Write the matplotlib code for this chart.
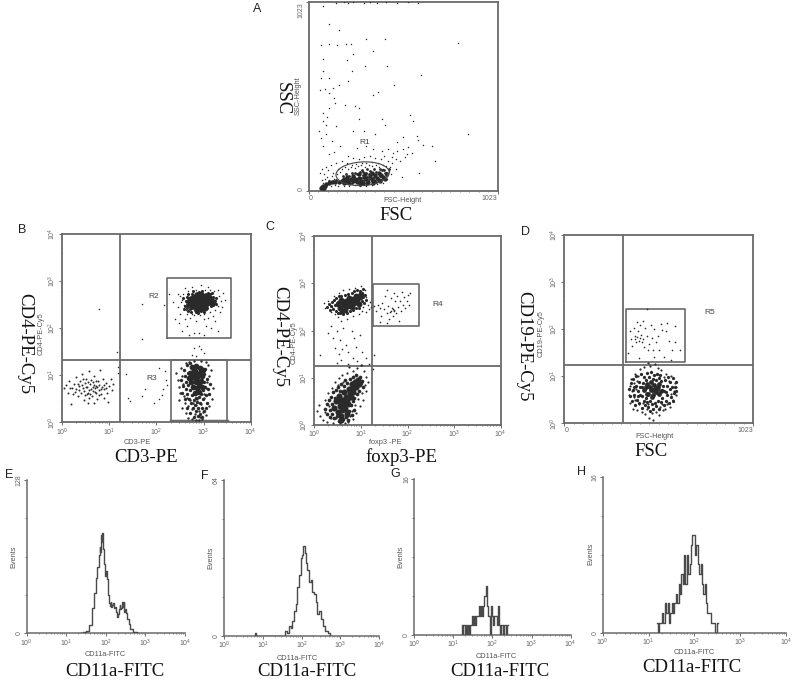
import numpy as np
import matplotlib
matplotlib.use('Agg')
import matplotlib.pyplot as plt
from matplotlib.patches import Ellipse
from matplotlib.ticker import LogLocator, NullFormatter, LogFormatterMathtext, MultipleLocator

plt.rcParams['font.family'] = ['Liberation Sans', 'DejaVu Sans']
plt.rcParams['mathtext.default'] = 'regular'

GREY = '#6a6a6a'
DOT = '#2a2a2a'

# panel A, FSC / SSC channels
a_sparse = np.array([[76,1000],[108,906],[166,870],[65,792],[112,797],[155,788],[202,794],[227,797],[310,821],[411,824],
    [810,803],[346,756],[238,740],[76,714],[206,707],[422,675],[305,675],[234,651],[76,648],[65,612],[112,612],[610,628],
    [215,597],[166,575],[462,575],[61,548],[88,554],[130,557],[377,536],[108,527],[350,518],[139,500],[142,476],[197,464],
    [112,449],[249,458],[270,446],[76,422],[101,400],[272,388],[79,379],[395,386],[547,408],[566,379],[94,355],[148,350],
    [413,355],[56,325],[94,310],[238,321],[299,325],[864,308],[65,283],[126,269],[359,310],[585,299],[512,289],[477,265],
    [666,245],[617,249],[594,274],[684,162],[597,97],[505,76],[150,1020],[190,1021],[215,1020],[240,1021],[300,1020],
    [330,1021],[370,1020],[420,1021],[480,1020],[540,1021],[590,1020],[80,240],[110,200],[135,210],[170,245],[215,190],
    [260,230],[310,240],[350,225],[395,215],[430,225],[455,205],[480,215],[510,225],[530,200],[540,235],[560,205],
    [450,180],[470,170],[495,160],[520,185],[430,160],[410,190],[390,170],[360,175],[330,190],[300,180],[270,170],
    [240,175],[210,150],[180,160],[150,150],[120,140],[95,130],[70,120],[60,95],[85,90],[105,110],[130,95],[160,120],
    [440,130],[470,120],[420,100],[400,140],[375,150],[345,155],[310,150],[285,140],[255,145],[230,130],
    [72,60],[78,40],[88,62],[98,72],[112,60],[124,78],[138,66],[152,90],[168,100],[180,118],[196,128],[214,118],[232,140],
    [250,125],[268,135],[288,150],[306,128],[326,142],[344,132],[362,138],[382,128],[402,120],[418,135],[436,108],[452,150],
    [120,28],[140,30],[160,28],[190,28],[220,26],[250,30],[280,24],[310,28],[340,30],[370,34],[400,40],[425,62],[445,88]])
a_core = np.array([[66,12],[70,18],[75,14],[78,24],[82,16],[88,28],[95,36],[108,40],[125,46],[145,48],[165,46],[180,52],[192,42],
    [205,60],[215,48],[228,66],[240,52],[250,62],[262,46],[270,70],[282,55],[292,44],[300,76],[310,62],[322,48],[330,80],[340,66],
    [352,52],[360,84],[372,70],[382,58],[392,86],[402,76],[412,66],[210,76],[240,80],[270,88],[305,92],[345,96],[378,98],[190,64],
    [220,40],[280,38],[315,42],[350,42],[385,50]])
a_fill = np.array([[180,60],[188,78],[196,52],[204,90],[212,66],[220,82],[228,56],[236,98],[244,74],[252,52],[260,88],[268,50],
    [276,104],[284,70],[292,84],[300,58],[308,96],[316,76],[324,66],[332,108],[340,54],[348,88],[356,72],[364,102],[372,62],[380,92],
    [388,78],[396,110],[404,68],[412,98],[418,84],[200,44],[232,44],[262,66],[296,104],[328,90],[362,48],[394,60],[168,46],[150,58],
    [130,54],[110,50],[250,98],[286,112],[318,118],[352,118],[384,116],[410,112],[426,96],[434,118]])

# panel B, decades on both axes
b_sparse = np.array([[0.79,2.41],[1.16,1.50],[1.18,1.05],[1.19,1.17],[1.70,2.51],[1.70,1.76],[2.16,2.49],[2.27,2.72],[2.35,2.55],
    [2.40,2.20],[2.45,2.45],[2.50,2.30],[2.48,2.10],[2.55,1.95],[2.60,2.20],[2.65,2.05],[2.70,1.85],[2.80,1.90],[2.90,1.90],[3.00,1.85],
    [3.05,2.05],[3.15,2.00],[3.25,2.15],[3.30,1.95],[2.55,2.60],[2.50,2.68],[2.45,2.72],[2.60,2.85],[2.75,2.87],[2.95,2.92],[3.10,2.88],
    [3.30,2.80],[3.42,2.75],[3.45,2.60],[3.40,2.45],[3.35,2.35],[3.20,2.25],[2.85,2.15],[3.00,2.20],[2.75,2.30],[2.80,1.58],[2.90,1.62],
    [2.95,1.55],[3.00,1.48],[2.85,1.40],[2.75,1.42],[1.35,1.03],[1.40,0.52],[1.45,0.45],[1.70,0.55],[1.75,0.70],[1.95,0.42],[2.05,0.50],
    [2.15,0.70],[2.12,0.58],[2.05,1.15],[2.20,0.90],[2.22,0.80],[2.18,1.10],[2.62,2.38],[2.66,2.30],[2.72,2.22],[2.80,2.28],[2.92,2.28],
    [3.02,2.30],[3.10,2.22],[3.14,2.34],[3.24,2.38],[3.30,2.48],[3.36,2.58],[3.32,2.68],[3.22,2.78],[3.14,2.80],[3.04,2.82],[2.84,2.80],
    [2.68,2.78],[2.56,2.72],[2.58,2.50],[2.52,2.55]])
b_r2_core = np.array([[2.70,2.52],[2.72,2.60],[2.75,2.46],[2.78,2.56],[2.79,2.65],[2.82,2.48],[2.84,2.60],[2.86,2.70],[2.88,2.44],
    [2.90,2.55],[2.92,2.64],[2.94,2.71],[2.96,2.46],[2.98,2.56],[3.00,2.66],[3.03,2.50],[3.05,2.60],[3.06,2.69],[3.10,2.56],[3.12,2.65],
    [3.16,2.60],[2.88,2.40],[3.00,2.42],[3.18,2.54],[2.76,2.52],[2.82,2.54],[2.86,2.50],[2.94,2.50],[2.98,2.62],[3.04,2.56],[2.92,2.58],
    [2.74,2.62],[3.08,2.62],[3.14,2.55]])
b_r2_fringe = np.array([[2.60,2.48],[2.62,2.58],[2.64,2.42],[2.65,2.66],[2.67,2.36],[2.68,2.72],[2.72,2.40],[2.74,2.34],[2.75,2.72],[2.78,2.78],
    [2.82,2.38],[2.84,2.34],[2.88,2.32],[2.90,2.77],[2.95,2.36],[2.97,2.78],[3.01,2.35],[3.05,2.40],[3.08,2.42],[3.09,2.74],[3.13,2.72],
    [3.16,2.46],[3.20,2.50],[3.21,2.66],[3.24,2.58],[3.26,2.52],[3.27,2.64],[3.17,2.74],[2.58,2.40],[2.56,2.64]])
b_r3_core = np.array([[2.75,1.18],[2.85,1.20],[2.92,1.15],[2.72,1.05],[2.82,1.08],[2.92,1.05],[2.98,1.12],[2.70,0.95],[2.78,0.97],
    [2.87,0.96],[2.97,0.98],[2.74,0.86],[2.84,0.85],[2.94,0.88],[2.78,0.74],[2.87,0.73],[2.96,0.76],[2.81,0.62],[2.90,0.64],[2.80,1.12],
    [2.88,1.02],[2.83,0.92],[2.91,0.82],[2.77,1.02]])
b_r3_fill = np.array([[2.58,1.12],[2.60,0.98],[2.62,0.85],[2.63,0.70],[2.64,1.22],[2.66,0.60],[2.67,1.05],[2.68,0.80],[2.70,0.50],[2.71,1.26],
    [2.72,0.68],[2.74,0.40],[2.76,0.58],[2.78,0.30],[2.79,0.48],[2.82,0.36],[2.84,0.52],[2.85,0.24],[2.87,0.44],[2.89,0.30],[2.90,0.54],
    [2.92,0.18],[2.93,0.42],[2.95,0.60],[2.96,0.30],[2.98,0.50],[2.99,0.68],[3.00,0.86],[3.02,1.02],[3.03,0.76],[3.04,1.14],[3.05,0.58],
    [3.07,0.92],[3.08,0.42],[3.09,0.70],[2.66,0.30],[2.72,0.20],[2.80,0.12],[2.88,0.14],[2.96,0.12],[3.02,0.24],[3.06,0.30],[2.60,0.50],
    [2.56,0.78],[2.54,0.62],[2.52,0.90],[3.12,0.60],[3.14,0.82]])
b_r3_halo = np.array([[2.42,1.05],[2.45,0.90],[2.47,0.75],[2.50,0.62],[2.52,1.15],[2.55,0.98],[2.57,0.82],[2.58,0.55],[2.62,1.25],
    [2.60,0.42],[2.65,0.52],[2.68,0.35],[2.72,0.48],[2.75,0.28],[2.78,0.42],[2.82,0.18],[2.84,0.36],[2.87,0.50],[2.90,0.25],[2.92,0.12],
    [2.95,0.38],[2.98,0.22],[3.00,0.52],[3.02,0.60],[3.05,0.72],[3.08,0.85],[3.12,0.98],[3.15,1.12],[3.10,1.22],[3.20,0.72],[3.18,0.50],
    [3.12,0.35],[2.62,0.20],[2.68,0.10],[2.76,0.08],[2.84,0.05],[2.90,0.04],[2.97,0.08],[3.05,0.15],[2.55,0.30],[2.48,0.48],[3.06,1.28],
    [2.95,1.30],[2.80,1.30],[2.70,1.28]])
b_low = np.array([[0.05,0.72],[0.09,0.80],[0.12,0.62],[0.15,0.88],[0.18,0.72],[0.20,0.38],[0.24,0.60],[0.26,0.82],[0.29,0.96],[0.30,0.70],
    [0.33,0.55],[0.36,0.78],[0.38,0.88],[0.40,0.62],[0.42,1.02],[0.44,0.72],[0.46,0.48],[0.48,0.84],[0.50,0.92],[0.52,0.60],[0.54,0.76],
    [0.55,0.42],[0.57,1.08],[0.58,0.68],[0.60,0.82],[0.62,0.90],[0.64,0.56],[0.65,0.74],[0.67,0.40],[0.68,0.98],[0.70,0.65],[0.72,0.78],
    [0.74,0.50],[0.76,0.88],[0.78,0.68],[0.80,1.12],[0.82,0.60],[0.84,0.76],[0.86,0.92],[0.88,0.52],[0.90,0.70],[0.93,0.84],[0.96,0.62],
    [0.98,0.44],[1.00,0.78],[1.03,0.92],[1.06,0.68],[1.08,0.82],[0.35,0.68],[0.55,0.62],[0.62,0.70],[0.70,0.72],[0.75,0.74],[0.68,0.80],
    [0.22,0.72],[0.28,0.64],[0.34,0.82],[0.42,0.80],[0.46,0.66],[0.50,0.74],[0.56,0.86],[0.60,0.60],[0.66,0.66],[0.72,0.62],[0.78,0.80],
    [0.82,0.70],[0.88,0.80],[0.94,0.72],[0.48,0.58],[0.58,0.52],[0.72,0.88],[0.66,0.86],[0.44,0.92],[0.78,0.58]])

# panel C, decades on both axes
c_top_core = np.array([[0.50,2.56],[0.55,2.48],[0.58,2.64],[0.63,2.53],[0.66,2.44],[0.68,2.62],[0.72,2.52],[0.74,2.68],[0.78,2.60],
    [0.80,2.50],[0.84,2.66],[0.86,2.58],[0.90,2.74],[0.92,2.64],[0.96,2.56],[0.98,2.70],[1.01,2.78],[0.60,2.42],[0.54,2.58],[0.64,2.60],
    [0.70,2.58],[0.76,2.54],[0.82,2.60],[0.88,2.66],[0.94,2.70]])
c_top_fill = np.array([[0.36,2.52],[0.38,2.60],[0.40,2.46],[0.42,2.64],[0.44,2.54],[0.46,2.42],[0.46,2.68],[0.50,2.38],[0.52,2.72],[0.56,2.36],
    [0.58,2.74],[0.62,2.34],[0.66,2.76],[0.70,2.38],[0.72,2.78],[0.76,2.42],[0.80,2.80],[0.84,2.44],[0.86,2.84],[0.90,2.48],[0.92,2.86],
    [0.96,2.48],[0.98,2.84],[1.02,2.62],[1.04,2.88],[1.04,2.70],[1.06,2.58],[1.08,2.76],[1.10,2.64],[0.34,2.44],[0.32,2.56],[0.28,2.50]])
c_top_halo = np.array([[0.20,2.58],[0.22,2.48],[0.30,2.62],[0.35,2.40],[0.38,2.50],[0.42,2.72],[0.44,2.34],[0.50,2.28],[0.52,2.80],
    [0.58,2.20],[0.62,2.85],[0.70,2.25],[0.75,2.88],[0.82,2.30],[0.88,2.90],[0.95,2.35],[1.00,2.95],[1.05,2.50],[1.08,2.85],[1.12,2.70],
    [1.15,2.55],[1.18,2.45],[1.10,2.40],[1.02,2.42],[0.35,2.10],[0.30,1.95],[0.40,1.85],[0.48,2.00],[0.55,1.80],[0.62,2.05],[0.68,1.70],
    [0.45,1.62],[0.52,1.50],[0.60,1.60],[0.72,1.55],[0.80,1.98],[0.85,1.85],[0.90,1.65],[0.98,1.90],[1.02,1.55],[0.48,1.32],[0.58,1.38],
    [0.72,1.30],[0.82,1.42],[0.92,1.35],[1.02,1.28],[1.12,1.42],[1.18,1.30],[0.12,1.48],[1.28,1.48],[1.26,1.18],[1.20,2.60],[1.22,2.50]])
c_r4 = np.array([[1.28,2.52],[1.33,2.42],[1.36,2.55],[1.40,2.48],[1.44,2.30],[1.46,2.58],[1.50,2.45],[1.52,2.72],[1.55,2.38],[1.57,2.85],
    [1.59,2.52],[1.62,2.40],[1.64,2.68],[1.66,2.47],[1.68,2.30],[1.70,2.80],[1.72,2.44],[1.74,2.62],[1.76,2.38],[1.78,2.72],[1.80,2.50],
    [1.82,2.20],[1.84,2.62],[1.86,2.42],[1.88,2.82],[1.90,2.55],[1.92,2.70],[1.95,2.48],[1.98,2.62],[2.02,2.76],[2.04,2.55],[2.06,2.80],
    [1.60,2.25],[1.55,2.15],[1.42,2.18],[1.68,2.45],[1.70,2.42],[1.65,2.42]])
c_low_core = np.array([[0.42,0.36],[0.46,0.50],[0.50,0.28],[0.52,0.62],[0.55,0.40],[0.58,0.20],[0.60,0.52],[0.63,0.70],[0.66,0.34],
    [0.68,0.60],[0.72,0.44],[0.74,0.76],[0.78,0.60],[0.80,0.86],[0.84,0.70],[0.87,0.92],[0.90,0.80],[0.93,0.96],[0.96,0.86],[0.58,0.10],
    [0.70,0.24],[0.54,0.50],[0.64,0.44],[0.70,0.52],[0.76,0.68],[0.82,0.78],[0.60,0.32]])
c_low_fill = np.array([[0.24,0.34],[0.27,0.24],[0.28,0.44],[0.31,0.52],[0.33,0.16],[0.34,0.32],[0.36,0.60],[0.38,0.24],[0.39,0.44],[0.41,0.70],
    [0.43,0.14],[0.44,0.58],[0.47,0.74],[0.48,0.18],[0.51,0.80],[0.53,0.08],[0.56,0.72],[0.57,0.86],[0.62,0.12],[0.64,0.82],[0.66,0.96],
    [0.68,0.16],[0.70,0.88],[0.74,0.30],[0.77,0.98],[0.78,0.42],[0.82,0.50],[0.84,1.02],[0.86,0.58],[0.90,1.06],[0.92,0.66],[0.96,0.72],
    [0.99,1.02],[1.00,0.88],[1.03,0.94],[1.05,0.80],[0.72,0.10],[0.80,0.22],[0.86,0.32]])
c_low_halo = np.array([[0.05,0.30],[0.10,0.42],[0.13,0.20],[0.18,0.10],[0.22,0.52],[0.24,0.28],[0.28,0.06],[0.30,0.68],[0.32,0.40],
    [0.36,0.15],[0.38,0.78],[0.40,0.05],[0.44,0.90],[0.46,0.14],[0.50,0.85],[0.52,1.00],[0.55,0.04],[0.60,1.05],[0.62,0.92],[0.65,0.04],
    [0.70,1.10],[0.72,0.06],[0.76,0.18],[0.80,0.30],[0.82,1.15],[0.84,0.12],[0.88,0.42],[0.90,0.25],[0.94,0.55],[0.98,0.40],[1.02,0.68],
    [1.05,0.52],[1.08,0.85],[1.10,1.02],[1.12,0.72],[1.06,1.15],[1.15,0.90],[0.75,1.22],[0.92,1.20],[1.00,1.26]])

# panel D, FSC channel against decades
d_r5 = np.array([[345,1.50],[355,1.95],[360,1.78],[368,1.65],[375,2.02],[380,1.85],[388,1.72],[392,2.15],[398,1.95],[402,1.75],[410,2.08],
    [415,1.88],[422,1.72],[428,2.18],[432,1.62],[438,2.02],[445,1.85],[450,2.42],[455,1.55],[460,1.68],[468,2.08],[472,1.80],[478,1.55],
    [485,2.00],[495,1.72],[505,1.85],[515,1.55],[522,2.10],[530,1.98],[540,1.40],[548,1.95],[558,2.12],[565,1.75],[575,1.35],[585,1.55],
    [598,2.06],[600,1.72],[625,1.55],[395,1.82],[412,1.80],[428,1.78],[380,1.78],[405,1.38],[488,1.40]])
d_core = np.array([[430,0.70],[440,0.78],[445,0.62],[450,0.84],[455,0.62],[462,0.76],[468,0.88],[472,0.56],[478,0.70],[482,0.60],[488,0.82],
    [495,0.66],[498,0.74],[505,0.76],[510,0.62],[515,0.84],[522,0.68],[470,0.70],[485,0.70],[500,0.72]])
d_fill = np.array([[352,0.72],[358,0.58],[362,0.86],[366,0.48],[370,0.70],[374,0.94],[378,0.60],[382,0.38],[386,0.80],[390,1.00],[394,0.50],
    [398,0.68],[402,0.88],[406,0.42],[410,0.76],[414,1.04],[418,0.58],[422,0.32],[426,0.86],[430,0.48],[434,0.98],[438,0.38],[442,0.92],
    [446,0.46],[450,1.06],[454,0.34],[458,0.98],[462,0.48],[466,0.26],[470,1.08],[474,0.40],[478,0.94],[482,0.30],[486,1.02],[490,0.44],
    [494,0.92],[498,0.36],[502,1.04],[506,0.48],[510,0.96],[514,0.30],[518,1.02],[522,0.46],[526,0.90],[530,0.54],[534,0.80],[538,0.38],
    [542,0.68],[546,0.92],[550,0.48],[554,0.80],[558,0.60],[562,0.98],[566,0.42],[570,0.72],[574,0.88],[578,0.56],[582,0.78],[586,0.96],
    [590,0.48],[594,0.64],[598,0.78],[602,0.88],[606,0.68],[400,0.58],[420,0.78],[440,0.54],[530,0.70],[550,0.66],[410,0.60],[375,0.78]])
d_halo = np.array([[350,0.60],[355,0.80],[358,0.42],[362,0.95],[366,0.68],[372,0.30],[375,0.85],[380,1.05],[384,0.50],[388,0.72],[395,0.28],
    [400,1.00],[405,0.40],[412,1.15],[418,0.25],[425,0.42],[432,1.20],[438,0.20],[445,0.30],[452,1.28],[460,0.12],[466,1.22],[475,0.22],
    [482,0.08],[490,1.25],[498,0.25],[505,1.18],[512,0.18],[520,0.35],[525,1.12],[532,0.28],[540,0.98],[545,0.30],[552,1.05],[558,0.40],
    [565,0.90],[572,0.35],[580,1.00],[588,0.50],[592,0.68],[598,0.85],[603,0.60],[606,0.78],[375,0.55],[392,0.90],[420,0.32],[455,0.40],
    [530,0.40],[575,0.62]])

# histograms E-H, decades against events
e_x = [1.35,1.47,1.53,1.60,1.68,1.73,1.77,1.80,1.83,1.85,1.87,1.88,1.90,1.92,1.94,1.95,1.97,2.00,2.02,2.04,2.06,2.07,2.09,2.11,2.13,2.15,
       2.17,2.19,2.21,2.23,2.26,2.29,2.32,2.34,2.36,2.38,2.39,2.41,2.44,2.46,2.48,2.50,2.53,2.56,2.59,2.65,2.74,2.82]
e_y = [0,1,2,7,21,34,46,55,65,72,68,82,76,84,70,65,58,48,52,45,36,32,25,23,26,22,24,25,21,22,18,14,16,20,24,20,21,26,22,26,18,20,17,12,8,4,1,0]
f_x = [0.80,0.82,0.84,1.53,1.60,1.65,1.70,1.74,1.78,1.83,1.87,1.91,1.95,2.00,2.03,2.06,2.09,2.13,2.17,2.21,2.25,2.30,2.34,2.38,2.43,2.47,2.51,2.57,2.64,2.70,2.77]
f_y = [0,1,0,0,2,1,4,3,6,10,13,20,25,32,33,37,34,30,27,22,23,18,17,14,9,10,7,4,2,1,0]
g_x = [1.21,1.24,1.27,1.30,1.33,1.36,1.39,1.42,1.45,1.48,1.51,1.54,1.57,1.60,1.63,1.66,1.69,1.72,1.75,1.78,1.81,1.85,1.88,1.91,1.94,1.97,2.00,2.03,
       2.06,2.09,2.12,2.15,2.18,2.21,2.24,2.28,2.32,2.36,2.40]
g_y = [1,0,1,0,1,0,1,0,1,2,1,2,1,2,2,3,2,3,2,3,4,5,3,2,0,3,2,1,2,2,1,3,1,0,1,0,1,0,1]
h_x = [1.19,1.22,1.25,1.28,1.31,1.34,1.37,1.40,1.43,1.46,1.49,1.52,1.55,1.58,1.61,1.64,1.67,1.70,1.73,1.76,1.79,1.82,1.85,1.88,1.91,1.94,1.97,2.00,2.03,
       2.06,2.09,2.12,2.15,2.18,2.21,2.24,2.27,2.30,2.34,2.38,2.42,2.46,2.51]
h_y = [1,0,1,1,2,1,3,2,3,1,2,3,2,3,4,3,5,4,6,5,8,5,8,6,7,9,10,10,8,9,7,6,7,5,4,5,3,2,2,1,1,0,1]

# gates, decades unless noted
b_vline, b_hline = 1.24, 1.32
b_r2_box = (2.23, 3.575, 1.80, 3.07)
b_r3_box = (2.31, 3.50, 0.02, 1.32)
c_vline, c_hline = 1.24, 1.256
c_r4_box = (1.27, 2.25, 2.09, 2.98)
d_vline, d_hline = 316, 1.237
d_r5_box = (332, 655, 1.30, 2.42)

fig = plt.figure(figsize=(8, 6.83), dpi=100, facecolor='white')


def px_ax(l, t, r, b):
    return fig.add_axes([l / 800, 1 - b / 683, (r - l) / 800, (b - t) / 683])


def px_text(x, y, s, size=5, rot=0, color='#555555', family=None):
    fig.text(x / 800, 1 - y / 683, s, fontsize=size, rotation=rot, color=color, ha='center', va='center', family=family)


def style(ax, xlog, ylog, top_right=True):
    for name, sp in ax.spines.items():
        sp.set_color(GREY)
        sp.set_linewidth(1.3 if top_right else 1.1)
        if not top_right and name in ('top', 'right'):
            sp.set_visible(False)
    if xlog:
        ax.set_xscale('log')
        ax.set_xlim(1, 1e4)
        ax.xaxis.set_major_locator(LogLocator(base=10, numticks=6))
        ax.xaxis.set_major_formatter(LogFormatterMathtext())
        ax.xaxis.set_minor_locator(LogLocator(base=10, subs=np.arange(2, 10), numticks=20))
        ax.xaxis.set_minor_formatter(NullFormatter())
    else:
        ax.set_xlim(0, 1023)
        ax.set_xticks([0, 1023])
        ax.xaxis.set_minor_locator(MultipleLocator(51.15))
        ax.get_xticklabels()[1].set_ha('right')
        ax.get_xticklabels()[0].set_ha('left')
    if ylog:
        ax.set_yscale('log')
        ax.set_ylim(1, 1e4)
        ax.yaxis.set_major_locator(LogLocator(base=10, numticks=6))
        ax.yaxis.set_major_formatter(LogFormatterMathtext())
        ax.yaxis.set_minor_locator(LogLocator(base=10, subs=np.arange(2, 10), numticks=20))
        ax.yaxis.set_minor_formatter(NullFormatter())
    ax.tick_params(which='major', length=2, width=0.6, color='#555555', labelcolor='#666666', labelsize=5, pad=1)
    ax.tick_params(which='minor', length=1, width=0.5, color='#555555')
    for t in ax.get_yticklabels():
        t.set_rotation(90)
        t.set_va('center')


def dots(ax, pts, size=1.0, log=(True, True)):
    x = 10.0 ** pts[:, 0] if log[0] else pts[:, 0]
    y = 10.0 ** pts[:, 1] if log[1] else pts[:, 1]
    ax.scatter(x, y, s=size, c=DOT, marker='o', linewidths=0, zorder=3, clip_on=True)


def box(ax, gate, log=(True, True)):
    x0, x1, y0, y1 = gate
    if log[0]:
        x0, x1 = 10.0 ** x0, 10.0 ** x1
    if log[1]:
        y0, y1 = 10.0 ** y0, 10.0 ** y1
    ax.plot([x0, x1, x1, x0, x0], [y0, y0, y1, y1, y0], color=GREY, lw=1.2, zorder=2)


# A
ax = px_ax(308.7, 2, 497.7, 190.7)
style(ax, False, False)
ax.set_ylim(0, 1023)
ax.set_yticks([0, 1023])
ax.yaxis.set_minor_locator(MultipleLocator(51.15))
ylab = ax.get_yticklabels()
for t in ylab:
    t.set_rotation(90)
    t.set_va('center')
ylab[1].set_va('top')
ylab[0].set_va('bottom')
dots(ax, a_sparse, 1.1, (False, False))
dots(ax, a_fill, 4, (False, False))
dots(ax, a_core, 10, (False, False))
ax.add_patch(Ellipse((292, 92), 289, 128, angle=3, fill=False, ec='#444444', lw=0.8, zorder=4))

# B
ax = px_ax(62, 234, 250.7, 422.3)
style(ax, True, True)
ax.axvline(10 ** b_vline, color=GREY, lw=1.3)
ax.axhline(10 ** b_hline, color=GREY, lw=1.3)
box(ax, b_r2_box)
box(ax, b_r3_box)
ax.plot(10.0 ** np.array(b_r3_box[:2]), 10.0 ** np.array([b_r3_box[2]] * 2), color=GREY, lw=2.5, zorder=2)
dots(ax, b_sparse, 1.2)
dots(ax, b_r2_core, 24)
dots(ax, b_r2_fringe, 5)
dots(ax, b_r3_core, 17)
dots(ax, b_r3_fill, 6)
dots(ax, b_r3_halo, 3)
dots(ax, b_low, 2)

# C
ax = px_ax(314.3, 236, 500.7, 425)
style(ax, True, True)
ax.axvline(10 ** c_vline, color=GREY, lw=1.3)
ax.axhline(10 ** c_hline, color=GREY, lw=1.3)
box(ax, c_r4_box)
dots(ax, c_top_core, 18)
dots(ax, c_top_fill, 5)
dots(ax, c_top_halo, 1.4)
dots(ax, c_r4, 1.4)
dots(ax, c_low_core, 20)
dots(ax, c_low_fill, 7)
dots(ax, c_low_halo, 2.5)

# D
ax = px_ax(564.3, 234.7, 753.3, 423.3)
style(ax, False, True)
ax.axvline(d_vline, color=GREY, lw=1.3)
ax.axhline(10 ** d_hline, color=GREY, lw=1.3)
box(ax, d_r5_box, (False, True))
dots(ax, d_r5, 1.4, (False, True))
dots(ax, d_core, 12, (False, True))
dots(ax, d_fill, 5.5, (False, True))
dots(ax, d_halo, 2.5, (False, True))

# E-H
for rect, hx, hy, top, lw in [((26.7, 480, 185, 633.3), e_x, e_y, 128, 1.0),
                              ((224, 480, 379.3, 635.7), f_x, f_y, 64, 1.0),
                              ((414.3, 479, 570.7, 635), g_x, g_y, 16, 1.0),
                              ((602.7, 476.7, 786, 632.7), h_x, h_y, 16, 1.0)]:
    ax = px_ax(*rect)
    style(ax, True, False, top_right=False)
    ax.set_xlim(1, 1e4)
    ax.set_ylim(0, top)
    ax.set_yticks([0, top])
    ax.yaxis.set_minor_locator(MultipleLocator(top / 4))
    ax.tick_params(axis='y', which='minor', length=1.5)
    for t in ax.get_yticklabels():
        t.set_rotation(90)
        t.set_va('center')
    ax.step(10.0 ** np.array(hx), hy, where='mid', color='#4a4a4a', lw=lw, zorder=3)

# panel letters
for x, y, s in [(257, 9, 'A'), (22, 230, 'B'), (270, 227, 'C'), (525, 232, 'D'),
                (9, 475, 'E'), (205, 476, 'F'), (395, 474, 'G'), (582, 472, 'H')]:
    px_text(x, y, s, size=9, color='#222222')

# gate names
for x, y, s in [(365, 142, 'R1'), (154, 297, 'R2'), (152, 378, 'R3'), (438, 305, 'R4'), (710, 312, 'R5')]:
    px_text(x, y, s, size=6, color='#444444')

# small instrument labels
for x, y, s, rot in [(298, 96, 'SSC-Height', 90), (403, 200, 'FSC-Height', 0),
                     (41, 334, 'CD4-PE-Cy5', 90), (137, 443, 'CD3-PE', 0),
                     (294, 343, 'CD4-PE-Cy5', 90), (385, 442, 'foxp3 -PE', 0),
                     (541, 334, 'CD19-PE-Cy5', 90), (654, 437, 'FSC-Height', 0),
                     (14, 557, 'Events', 90), (105, 655, 'CD11a-FITC', 0),
                     (211, 558, 'Events', 90), (297, 658, 'CD11a-FITC', 0),
                     (401, 557, 'Events', 90), (496, 656, 'CD11a-FITC', 0),
                     (591, 554, 'Events', 90), (694, 653, 'CD11a-FITC', 0)]:
    px_text(x, y, s, size=5.3, rot=rot)

# big serif labels
for x, y, s, rot in [(282, 99, 'SSC', 270), (396, 215, 'FSC', 0),
                     (25, 344, 'CD4-PE-Cy5', 270), (146, 458, 'CD3-PE', 0),
                     (280, 337, 'CD4-PE-Cy5', 270), (401, 457, 'foxp3-PE', 0),
                     (524, 346, 'CD19-PE-Cy5', 270), (651, 452, 'FSC', 0),
                     (115, 672, 'CD11a-FITC', 0), (307, 672, 'CD11a-FITC', 0),
                     (500, 672, 'CD11a-FITC', 0), (692, 668, 'CD11a-FITC', 0)]:
    px_text(x, y, s, size=13.5, rot=rot, color='#111111', family='Liberation Serif')

fig.savefig('out.png', dpi=100)
